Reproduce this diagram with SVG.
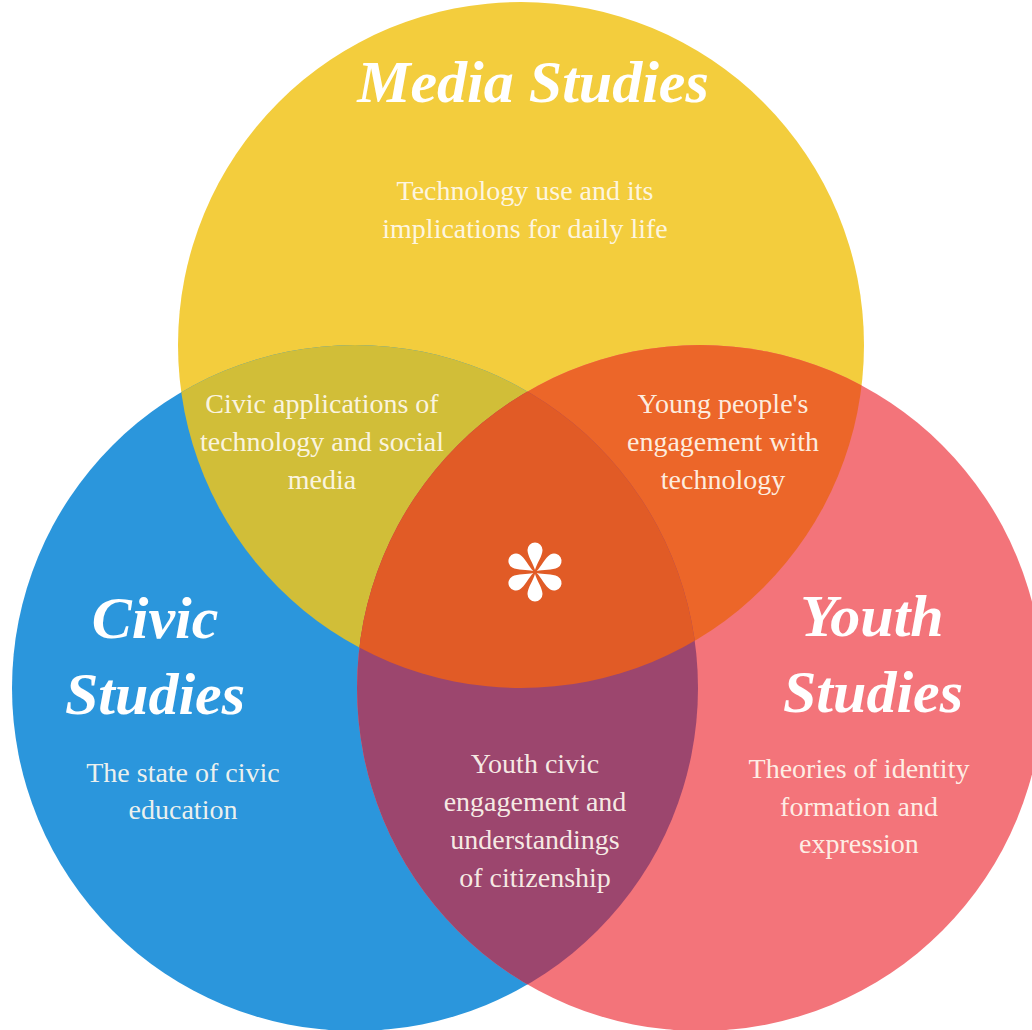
<svg xmlns="http://www.w3.org/2000/svg" width="1032" height="1030" viewBox="0 0 1032 1030">
  <defs>
    <clipPath id="clipBlue"><circle cx="355" cy="688" r="343"/></clipPath>
    <clipPath id="clipPink"><circle cx="700" cy="688" r="343"/></clipPath>
    <path id="petal" d="M0,-2 C-1.5,-8 -7.5,-16 -7.5,-22 A7.5,7.5 0 0 1 7.5,-22 C7.5,-16 1.5,-8 0,-2 Z"/>
    <style>
      .title { font-family: "Liberation Serif", "Times New Roman", serif; font-weight: bold; font-style: italic; font-size: 60px; fill: #ffffff; text-anchor: middle; }
      .body { font-family: "Liberation Serif", "Times New Roman", serif; font-size: 28px; fill: #fffaf0; fill-opacity: 0.93; text-anchor: middle; }
    </style>
  </defs>
  <rect width="1032" height="1030" fill="#ffffff"/>

  <!-- base circles -->
  <g id="circles">
    <circle id="media" cx="521" cy="345" r="343" fill="#F3CD3D"/>
    <circle id="civic" cx="355" cy="688" r="343" fill="#2B96DC"/>
    <circle id="youth" cx="700" cy="688" r="343" fill="#F3747A"/>
  </g>

  <!-- overlaps -->
  <g id="overlaps">
    <circle id="media-civic" cx="521" cy="345" r="343" fill="#D1BE38" clip-path="url(#clipBlue)"/>
    <circle id="media-youth" cx="521" cy="345" r="343" fill="#EC6629" clip-path="url(#clipPink)"/>
    <circle id="civic-youth" cx="355" cy="688" r="343" fill="#9C466E" clip-path="url(#clipPink)"/>
    <g clip-path="url(#clipPink)">
      <circle id="center" cx="521" cy="345" r="343" fill="#E15B26" clip-path="url(#clipBlue)"/>
    </g>
  </g>

  <!-- titles -->
  <g id="titles">
    <text class="title" x="533" y="102">Media Studies</text>
    <text class="title" x="155" y="638">Civic</text>
    <text class="title" x="155" y="714">Studies</text>
    <text class="title" x="872" y="636">Youth</text>
    <text class="title" x="873" y="712">Studies</text>
  </g>

  <!-- region descriptions -->
  <g id="media-text">
    <text class="body" x="525" y="200">Technology use and its</text>
    <text class="body" x="525" y="238">implications for daily life</text>
  </g>
  <g id="media-civic-text">
    <text class="body" x="322" y="413">Civic applications of</text>
    <text class="body" x="322" y="451">technology and social</text>
    <text class="body" x="322" y="489">media</text>
  </g>
  <g id="media-youth-text">
    <text class="body" x="723" y="413">Young people's</text>
    <text class="body" x="723" y="451">engagement with</text>
    <text class="body" x="723" y="489">technology</text>
  </g>
  <g id="civic-text">
    <text class="body" x="183" y="782">The state of civic</text>
    <text class="body" x="183" y="819">education</text>
  </g>
  <g id="civic-youth-text">
    <text class="body" x="535" y="773">Youth civic</text>
    <text class="body" x="535" y="811">engagement and</text>
    <text class="body" x="535" y="849">understandings</text>
    <text class="body" x="535" y="887">of citizenship</text>
  </g>
  <g id="youth-text">
    <text class="body" x="859" y="778">Theories of identity</text>
    <text class="body" x="859" y="816">formation and</text>
    <text class="body" x="859" y="853">expression</text>
  </g>

  <!-- six-petal asterisk at the shared centre -->
  <g id="asterisk" transform="translate(535,572)" fill="#ffffff">
    <use href="#petal"/>
    <use href="#petal" transform="rotate(60)"/>
    <use href="#petal" transform="rotate(120)"/>
    <use href="#petal" transform="rotate(180)"/>
    <use href="#petal" transform="rotate(240)"/>
    <use href="#petal" transform="rotate(300)"/>
  </g>
</svg>
